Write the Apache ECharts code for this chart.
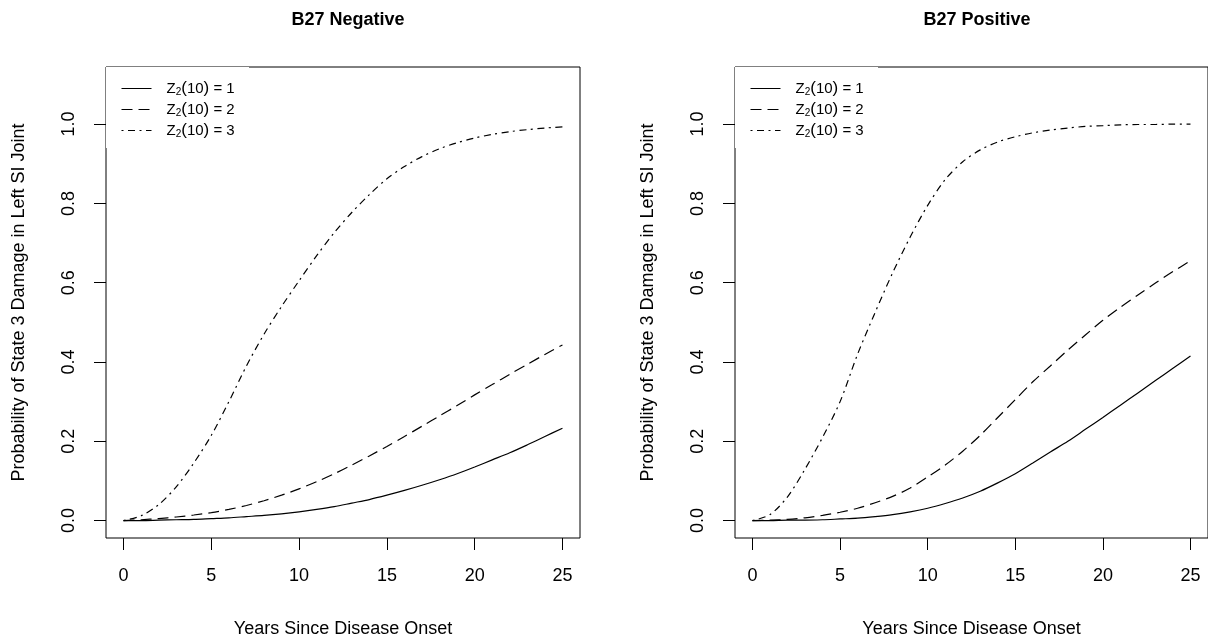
<!DOCTYPE html>
<html>
<head>
<meta charset="utf-8">
<script src="https://cdn.jsdelivr.net/npm/echarts@6/dist/echarts.min.js"></script>
<style>
  html, body { margin: 0; padding: 0; background: #fff; }
  #chart { width: 1208px; height: 643px; }
</style>
</head>
<body>
<div id="chart"></div>
<script>
// years since onset
const years = [0, 1, 2, 3, 4, 5, 6, 7, 8, 9, 10, 11, 12, 13, 14, 15, 16, 17, 18, 19, 20, 21, 22, 23, 24, 25];

// B27 negative
const negZ1 = [0, 0, 0.001, 0.002, 0.003, 0.005, 0.007, 0.010, 0.013, 0.017, 0.022, 0.028, 0.035, 0.044, 0.053, 0.064, 0.076, 0.089, 0.103, 0.118, 0.135, 0.153, 0.171, 0.191, 0.212, 0.233];
const negZ2 = [0, 0.002, 0.005, 0.009, 0.014, 0.020, 0.028, 0.038, 0.050, 0.064, 0.080, 0.098, 0.118, 0.140, 0.163, 0.187, 0.212, 0.238, 0.264, 0.290, 0.317, 0.343, 0.369, 0.394, 0.419, 0.443];
const negZ3 = [0, 0.012, 0.040, 0.085, 0.145, 0.215, 0.300, 0.390, 0.470, 0.540, 0.605, 0.668, 0.726, 0.777, 0.822, 0.862, 0.893, 0.918, 0.938, 0.953, 0.965, 0.974, 0.981, 0.986, 0.990, 0.993];

// B27 positive
const posZ1 = [0, 0, 0.001, 0.001, 0.002, 0.004, 0.006, 0.010, 0.015, 0.022, 0.031, 0.043, 0.057, 0.074, 0.095, 0.118, 0.145, 0.173, 0.200, 0.230, 0.260, 0.291, 0.322, 0.353, 0.384, 0.415];
const posZ2 = [0, 0.001, 0.003, 0.007, 0.013, 0.021, 0.031, 0.045, 0.061, 0.082, 0.110, 0.140, 0.175, 0.215, 0.260, 0.305, 0.350, 0.390, 0.430, 0.468, 0.505, 0.538, 0.569, 0.599, 0.628, 0.655];
const posZ3 = [0, 0.015, 0.060, 0.130, 0.210, 0.300, 0.420, 0.525, 0.625, 0.715, 0.795, 0.860, 0.905, 0.935, 0.955, 0.968, 0.978, 0.985, 0.990, 0.994, 0.996, 0.998, 0.999, 0.999, 1.000, 1.000];

const xTicks = [0, 5, 10, 15, 20, 25];
const yTicks = [0, 0.2, 0.4, 0.6, 0.8, 1.0];
const names = ['Z2(10) = 1', 'Z2(10) = 2', 'Z2(10) = 3'];

const font = 'Liberation Sans, Arial, Helvetica, sans-serif';
const lineTypes = ['solid', [11, 6], [2, 4.5, 7, 4.5]];

function pairs(ys) {
  return years.map((x, i) => [x, ys[i]]);
}

function xAxisFor(gridIndex) {
  return {
    type: 'value', gridIndex: gridIndex, min: -1, max: 26,
    name: 'Years Since Disease Onset', nameLocation: 'middle', nameGap: 82,
    nameTextStyle: { fontFamily: font, fontSize: 18, color: '#000' },
    axisLine: { show: false, onZero: false },
    splitLine: { show: false },
    axisTick: { show: true, inside: false, length: 12, lineStyle: { color: '#000' }, customValues: xTicks },
    axisLabel: { fontFamily: font, fontSize: 18, color: '#000', margin: 29, customValues: xTicks }
  };
}

function yAxisFor(gridIndex) {
  return {
    type: 'value', gridIndex: gridIndex, min: -0.044, max: 1.144,
    name: 'Probability of State 3 Damage in Left SI Joint', nameLocation: 'middle', nameGap: 78,
    nameRotate: 90,
    nameTextStyle: { fontFamily: font, fontSize: 18, color: '#000' },
    axisLine: { show: false, onZero: false },
    splitLine: { show: false },
    axisTick: { show: true, inside: false, length: 12, lineStyle: { color: '#000' }, customValues: yTicks },
    axisLabel: {
      fontFamily: font, fontSize: 18, color: '#000', margin: 28, rotate: 90,
      customValues: yTicks, formatter: v => v.toFixed(1)
    }
  };
}

function seriesFor(idx, sets) {
  return sets.map((ys, k) => ({
    name: names[k], type: 'line', xAxisIndex: idx, yAxisIndex: idx,
    data: pairs(ys), showSymbol: false, symbol: 'none',
    smooth: 0.3,
    lineStyle: { color: '#000', width: 1.2, type: lineTypes[k] },
    itemStyle: { color: '#000' }
  }));
}

function legendFor(left) {
  return {
    orient: 'vertical', left: left, top: 67, z: 10,
    padding: [13, 0, 0, 15],
    itemWidth: 30, itemHeight: 14, itemGap: 4,
    data: names,
    selectedMode: false,
    itemStyle: { opacity: 0 },
    lineStyle: { width: 1 },
    formatter: n => '{a|Z}{s|2}{p|(}{a|10}{p|)}{a| = ' + n.slice(-1) + '}',
    textStyle: {
      fontFamily: font, fontSize: 15, color: '#000', padding: [0, 0, 0, 10],
      rich: {
        a: { fontFamily: font, fontSize: 15, color: '#000' },
        p: { fontFamily: font, fontSize: 17, color: '#000' },
        s: { fontFamily: font, fontSize: 10, color: '#000', padding: [7, 0, 0, 0] }
      }
    }
  };
}

const chart = echarts.init(document.getElementById('chart'), null, { renderer: 'canvas' });
chart.setOption({
  animation: false,
  backgroundColor: '#fff',
  title: [
    { text: 'B27 Negative', left: 343, top: 6, textAlign: 'center',
      textStyle: { fontFamily: font, fontSize: 18, fontWeight: 'bold', color: '#000' } },
    { text: 'B27 Positive', left: 972, top: 6, textAlign: 'center',
      textStyle: { fontFamily: font, fontSize: 18, fontWeight: 'bold', color: '#000' } }
  ],
  grid: [
    { left: 106, top: 67, width: 474, height: 476, show: true, borderColor: '#000', borderWidth: 1, backgroundColor: 'transparent' },
    { left: 735, top: 67, width: 474, height: 476, show: true, borderColor: '#000', borderWidth: 1, backgroundColor: 'transparent' }
  ],
  xAxis: [xAxisFor(0), xAxisFor(1)],
  yAxis: [yAxisFor(0), yAxisFor(1)],
  legend: [legendFor(106), legendFor(735)],
  graphic: [
    { type: 'rect', z: 5, shape: { x: 106, y: 67, width: 143, height: 81 }, style: { fill: '#fff' } },
    { type: 'rect', z: 5, shape: { x: 735, y: 67, width: 143, height: 81 }, style: { fill: '#fff' } }
  ],
  series: seriesFor(0, [negZ1, negZ2, negZ3]).concat(seriesFor(1, [posZ1, posZ2, posZ3]))
});
</script>
</body>
</html>
